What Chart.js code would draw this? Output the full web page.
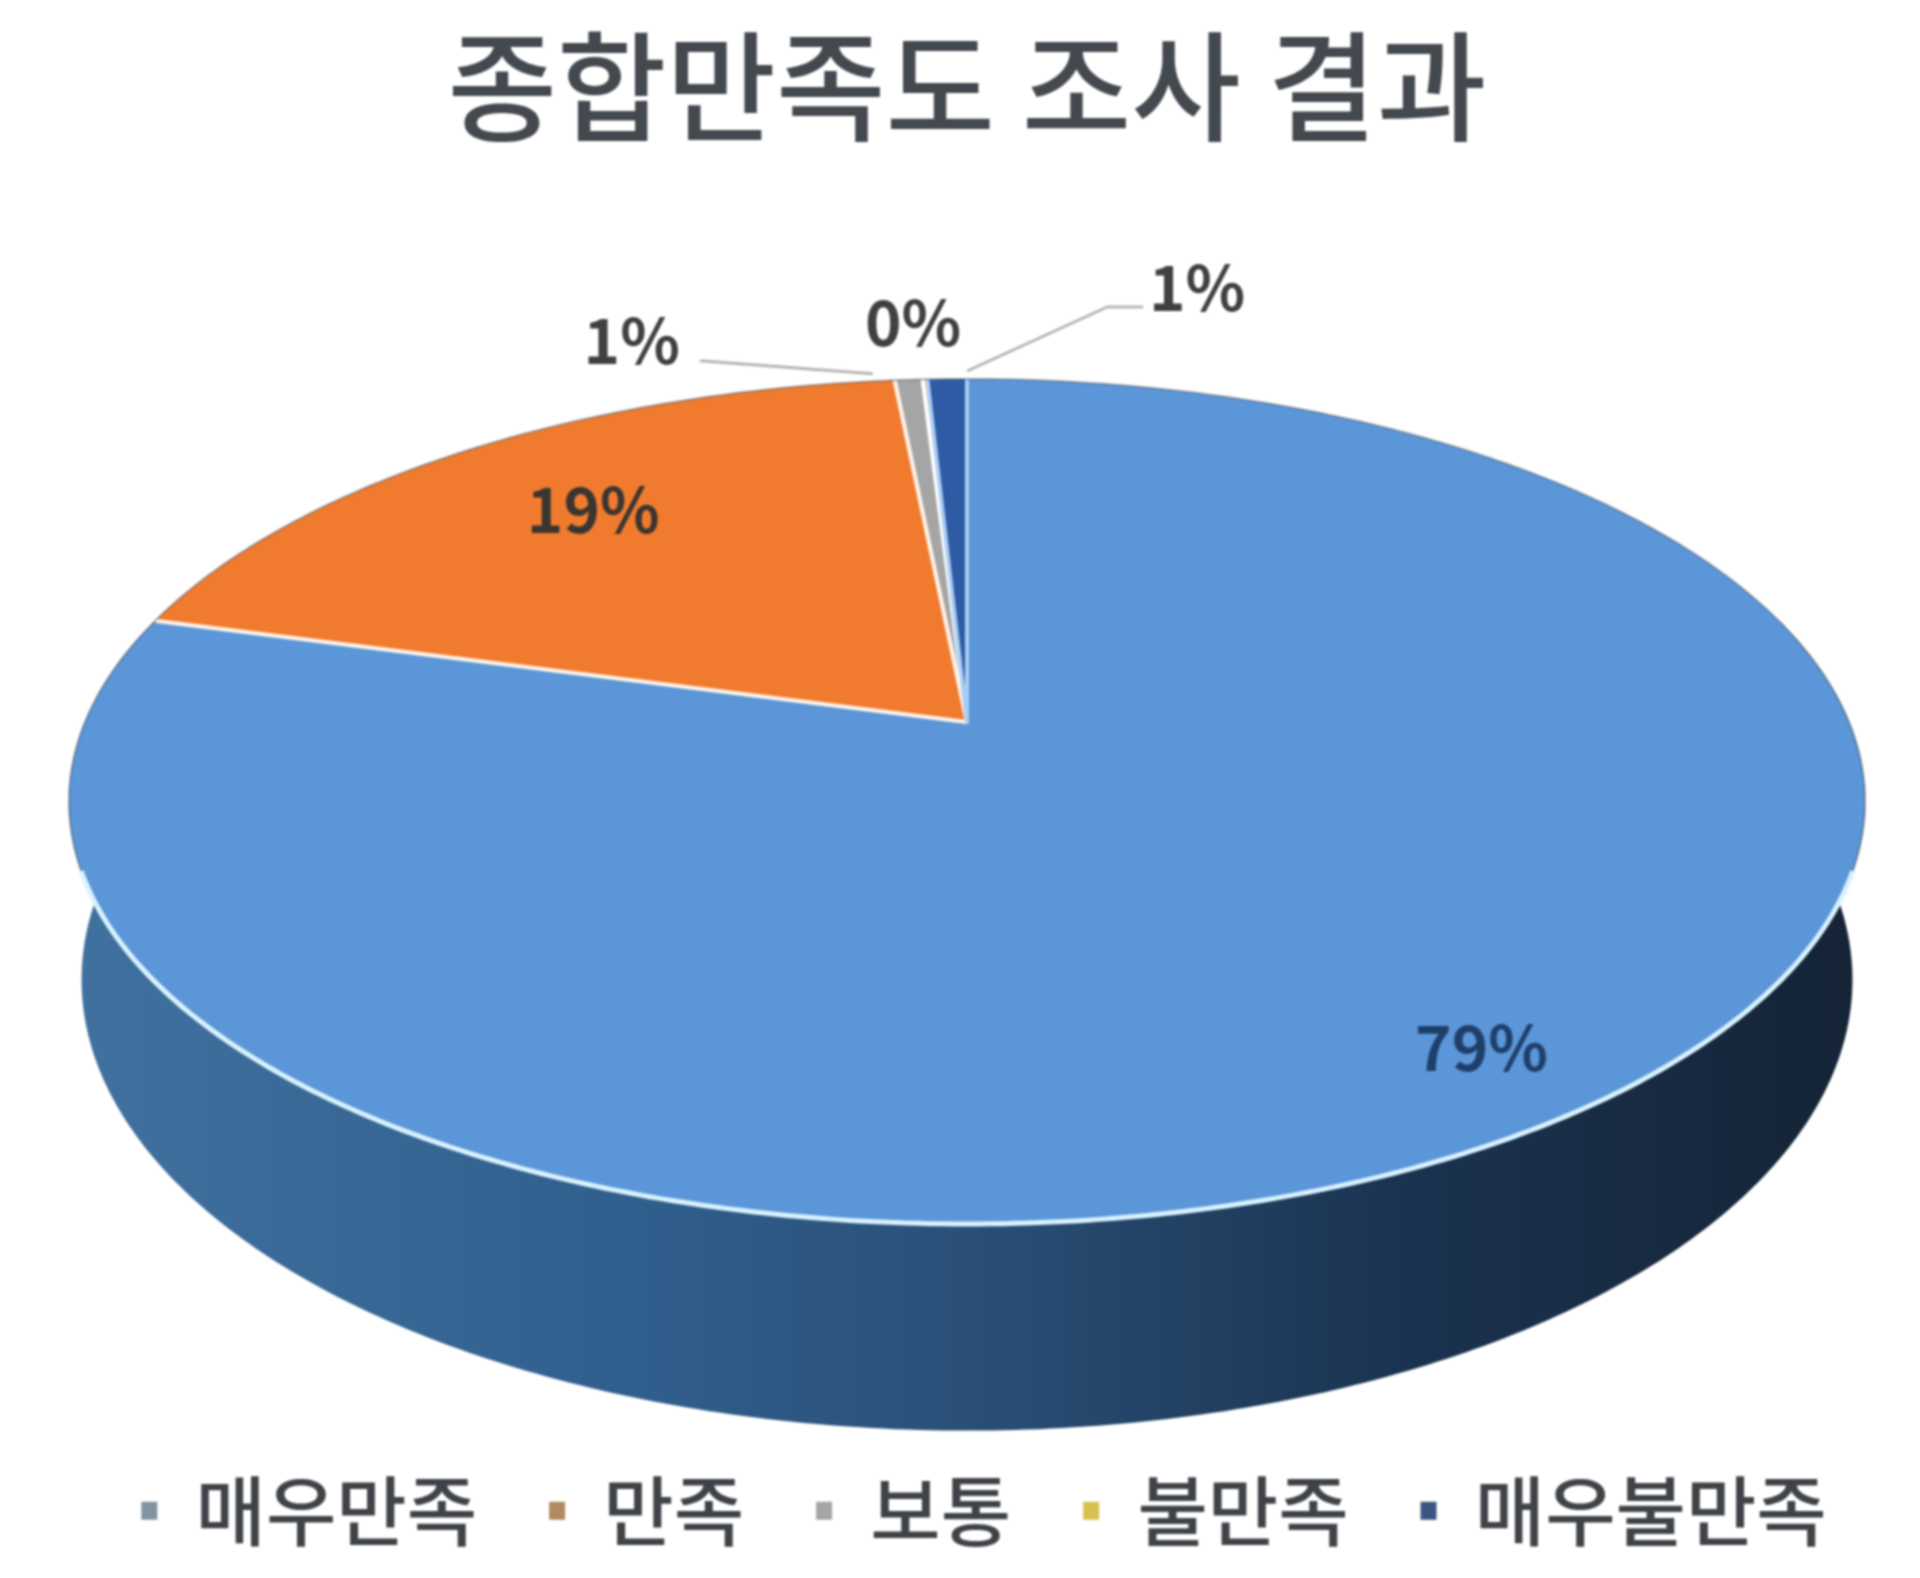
<!DOCTYPE html>
<html>
<head>
<meta charset="utf-8">
<style>
  body { margin: 0; background: #fff; overflow: hidden; }
  canvas { display: block; filter: blur(0.8px); }
</style>
<script src="https://cdn.jsdelivr.net/npm/chart.js@4"></script>
</head>
<body>
<canvas id="myChart" width="1920" height="1578"></canvas>
<script>
const categories = ["매우만족", "만족", "보통", "불만족", "매우불만족"];
const values = [79.2, 19.25, 0.6, 0.1, 0.85];
const sliceColors = ["#5b96d8", "#f07b2f", "#a5a5a5", "#ffc000", "#2f5ba5"];
const sliceBorders = ["#9cc6f5", "#fff3e8", "#fff3e8", "#ffffff", "#a8cdf5"];
const legendColors = ["#82939f", "#b08a60", "#a5a5a5", "#d8c050", "#3d5480"];

// pie is seen in perspective, all sizes relative to the library's radius
const tilt = { rx: 2.205, ry: 1.019, k: 0.188, apexY: 722, depth: 173, wallX: 0.986, wallY: 1.067 };

// label placement: r = fraction of radius (else from the rim), dx/dy = px offset
const labelPlace = [
  { r: 0.845, dx: -4, dy: 12, color: "#1f3f6b" },
  { r: 0.735, dx: 5, dy: -6, color: "#3b3530" },
  { dx: -277, dy: -39, color: "#404040", line: [[-209, -19], [-36, -6]] },
  { dx: -12, dy: -57, color: "#404040" },
  { dx: 250, dy: -92, color: "#404040", line: [[20, -8], [160, -72], [196, -72]] }
];

function project(arc, angle, r, level) {
  const u = Math.cos(angle) * r, v = Math.sin(angle) * r;
  const w = 1 - tilt.k * v;
  const R = arc.outerRadius;
  return {
    x: arc.x + R * tilt.rx * u / w * (level ? tilt.wallX : 1),
    y: tilt.apexY + R * tilt.ry * v / w * (level ? tilt.wallY : 1) + (level ? tilt.depth : 0)
  };
}

function traceRim(ctx, arc, from, to, level) {
  const steps = Math.max(2, Math.ceil(Math.abs(to - from) * 90));
  for (let i = 0; i <= steps; i++) {
    const p = project(arc, from + (to - from) * i / steps, 1, level);
    ctx.lineTo(p.x, p.y);
  }
}

const tiltedPie = {
  id: "tiltedPie",
  afterLayout(chart) {
    chart.legend.left += 17;
    chart.legend.right += 17;
    chart.legend.top -= 19;
    chart.legend.bottom -= 19;
  },
  beforeDatasetDraw(chart) {
    const ctx = chart.ctx;
    const arcs = chart.getDatasetMeta(0).data;
    const first = arcs[0];
    const deg = Math.PI / 180;

    // side wall
    const g = ctx.createLinearGradient(70, 0, 1850, 0);
    g.addColorStop(0, "#41719f");
    g.addColorStop(0.3, "#31608f");
    g.addColorStop(0.5, "#2a5078");
    g.addColorStop(0.75, "#1b3350");
    g.addColorStop(1, "#152436");
    ctx.beginPath();
    traceRim(ctx, first, -15 * deg, 195 * deg, 0);
    traceRim(ctx, first, 195 * deg, -15 * deg, 1);
    ctx.closePath();
    ctx.fillStyle = g;
    ctx.fill();

    // top face, angles come from the arcs of the controller
    ctx.lineJoin = "round";
    arcs.forEach(function (arc) {
      const apex = project(arc, 0, 0, 0);
      ctx.beginPath();
      ctx.moveTo(apex.x, apex.y);
      traceRim(ctx, arc, arc.startAngle, arc.endAngle, 0);
      ctx.closePath();
      ctx.fillStyle = arc.options.backgroundColor;
      ctx.fill();

      // only the two straight edges get the slice border
      const a = project(arc, arc.startAngle, 1, 0);
      const b = project(arc, arc.endAngle, 1, 0);
      ctx.beginPath();
      ctx.moveTo(a.x, a.y);
      ctx.lineTo(apex.x, apex.y);
      ctx.lineTo(b.x, b.y);
      ctx.strokeStyle = arc.options.borderColor;
      ctx.lineWidth = arc.options.borderWidth;
      ctx.stroke();
    });

    // thin dark back edge, bright front edge
    ctx.beginPath();
    traceRim(ctx, first, 160 * deg, 380 * deg, 0);
    ctx.strokeStyle = "rgba(70,85,100,0.45)";
    ctx.lineWidth = 2;
    ctx.stroke();
    ctx.beginPath();
    traceRim(ctx, first, 20 * deg, 160 * deg, 0);
    ctx.strokeStyle = "#d8f2ff";
    ctx.lineWidth = 5;
    ctx.stroke();
    return false;
  },
  afterDatasetsDraw(chart) {
    const ctx = chart.ctx;
    const arcs = chart.getDatasetMeta(0).data;
    const total = values.reduce(function (a, b) { return a + b; }, 0);
    ctx.font = "bold 62px 'Noto Sans CJK KR'";
    ctx.textAlign = "center";
    ctx.textBaseline = "middle";
    arcs.forEach(function (arc, i) {
      const place = labelPlace[i];
      const mid = (arc.startAngle + arc.endAngle) / 2;
      const rim = project(arc, mid, 1, 0);
      if (place.line) {
        ctx.beginPath();
        place.line.forEach(function (pt) { ctx.lineTo(rim.x + pt[0], rim.y + pt[1]); });
        ctx.strokeStyle = "#b5b5b5";
        ctx.lineWidth = 3;
        ctx.stroke();
      }
      const base = place.r ? project(arc, mid, place.r, 0) : rim;
      ctx.fillStyle = place.color;
      ctx.fillText(Math.round(values[i] / total * 100) + "%", base.x + place.dx, base.y + place.dy);
    });
  }
};

const config = {
  type: "pie",
  data: {
    labels: categories,
    datasets: [{
      data: values,
      backgroundColor: sliceColors,
      borderColor: sliceBorders,
      borderWidth: 4,
      radius: 400
    }]
  },
  options: {
    responsive: false,
    devicePixelRatio: 1,
    animation: false,
    layout: { padding: { left: 14 } },
    plugins: {
      title: {
        display: true,
        text: "종합만족도 조사 결과",
        color: "#44494f",
        font: { family: "'Noto Sans CJK KR'", size: 119, weight: "500" },
        padding: { top: 15, bottom: 10 }
      },
      legend: {
        position: "bottom",
        labels: {
          color: "#3f4347",
          font: { family: "'Noto Sans CJK KR'", size: 76.5, weight: "500" },
          padding: 72,
          usePointStyle: true,
          pointStyle: "rect",
          pointStyleWidth: 16,
          boxHeight: 18,
          generateLabels(chart) {
            return categories.map(function (c, i) {
              return { text: c, fillStyle: legendColors[i], strokeStyle: legendColors[i], lineWidth: 0, pointStyle: "rect", index: i, fontColor: "#3f4347" };
            });
          }
        }
      },
      tooltip: { enabled: false }
    }
  },
  plugins: [tiltedPie]
};

var myChart = new Chart(document.getElementById("myChart"), config);
</script>
</body>
</html>
